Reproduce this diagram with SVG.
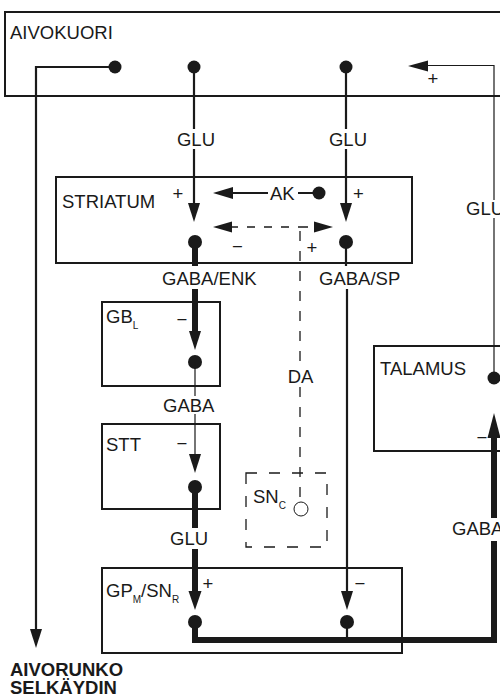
<svg xmlns="http://www.w3.org/2000/svg" width="500" height="697" viewBox="0 0 500 697">
<style>
text{font-family:"Liberation Sans",Arial,Helvetica,sans-serif;font-size:18.5px;fill:#1a1a1a}
.box{fill:none;stroke:#1a1a1a;stroke-width:2}
.ln{fill:none;stroke:#1a1a1a;stroke-width:2.2}
.thin{fill:none;stroke:#1a1a1a;stroke-width:1.2}
.thick{fill:none;stroke:#1a1a1a;stroke-width:6}
.dash{fill:none;stroke:#1a1a1a;stroke-width:1.3;stroke-dasharray:10 10}
.hdash{fill:none;stroke:#1a1a1a;stroke-width:1.3;stroke-dasharray:8 9}
.dot,.ah{fill:#1a1a1a}
.c{text-anchor:middle}
.sub{font-size:10px}
.b{font-weight:bold}
</style>
<rect x="0" y="0" width="500" height="697" fill="#ffffff"/>

<g id="aivokuori">
<rect class="box" x="5" y="12" width="510" height="84"/>
<text x="10" y="39">AIVOKUORI</text>
</g>
<g id="striatum">
<rect class="box" x="56" y="177" width="356" height="86"/>
<text x="62" y="208">STRIATUM</text>
</g>
<g id="gbl">
<rect class="box" x="102" y="302" width="118" height="84"/>
<text x="106" y="323">GB<tspan class="sub" dy="6">L</tspan></text>
</g>
<g id="stt">
<rect class="box" x="102" y="424" width="118" height="85"/>
<text x="106" y="451">STT</text>
</g>
<g id="snc">
<rect x="246" y="473" width="81" height="74" fill="none" stroke="#1a1a1a" stroke-width="1.3" stroke-dasharray="11 12"/>
<text x="253" y="503">SN<tspan class="sub" dy="6">C</tspan></text>
<circle cx="301" cy="509" r="7" fill="#ffffff" stroke="#1a1a1a" stroke-width="1"/>
</g>
<g id="gpm">
<rect class="box" x="102" y="568" width="300" height="85"/>
<text x="106" y="597">GP<tspan class="sub" dy="6">M</tspan><tspan dy="-6">/SN</tspan><tspan class="sub" dy="6">R</tspan></text>
</g>
<g id="talamus">
<rect class="box" x="374" y="346" width="140" height="105"/>
<text x="380" y="375">TALAMUS</text>
</g>
<g id="aivorunko">
<text class="b" x="10" y="676">AIVORUNKO</text>
<text class="b" x="10" y="694">SELKÄYDIN</text>
</g>

<g id="connectors">
<circle class="dot" cx="115" cy="67" r="6.5"/>
<path class="ln" d="M115,67 H36 V630"/>
<path class="ah" d="M30,629 L42,629 L36,648 Z"/>

<circle class="dot" cx="194" cy="67" r="6.5"/>
<path class="ln" d="M194,67 V129 M194,149 V205"/>
<text class="c" x="196" y="146">GLU</text>
<path class="ah" d="M188,203 L200,203 L194,222 Z"/>
<text class="c" x="178" y="199.5">+</text>

<circle class="dot" cx="346" cy="67" r="6.5"/>
<path class="ln" d="M346,67 V129 M346,149 V205"/>
<text class="c" x="348" y="146">GLU</text>
<path class="ah" d="M340,203 L352,203 L346,222 Z"/>
<text class="c" x="358.5" y="199.5">+</text>

<path class="ah" d="M213,193 L233,187 L233,199 Z"/>
<path class="ln" d="M231,193 H268 M298,193 H313"/>
<text x="270" y="199.5">AK</text>
<circle class="dot" cx="319" cy="193" r="6.5"/>

<path class="hdash" d="M230,227 H300 M300,227 H316"/>
<path class="ah" d="M213,227 L232,221.5 L232,232.5 Z"/>
<path class="ah" d="M333,227 L314,221.5 L314,232.5 Z"/>
<path class="dash" d="M300,231 V366 M300,387 V502"/>
<text class="c" x="300.5" y="383">DA</text>
<text class="c" x="237.5" y="252.5">−</text>
<text class="c" x="312" y="254">+</text>

<circle class="dot" cx="195" cy="242" r="7"/>
<path class="thick" d="M195,242 V266 M195,289 V332"/>
<text x="162" y="285">GABA/ENK</text>
<path class="ah" d="M189,331 L201,331 L195,350 Z"/>
<text class="c" x="182" y="325.5">−</text>

<circle class="dot" cx="195" cy="362" r="7"/>
<path class="thin" d="M195,362 V396 M195,414 V455"/>
<text x="163" y="412">GABA</text>
<path class="ah" d="M189,454 L201,454 L195,473 Z"/>
<text class="c" x="182" y="449.5">−</text>

<circle class="dot" cx="195" cy="487" r="7"/>
<path class="thick" d="M195,487 V528 M195,549 V592"/>
<text x="170" y="545">GLU</text>
<path class="ah" d="M188.5,591 L201.5,591 L195,610 Z"/>
<text class="c" x="208" y="589.5">+</text>

<circle class="dot" cx="346" cy="242" r="7"/>
<path class="ln" d="M346,242 V266 M347,289 V592"/>
<text x="319" y="285">GABA/SP</text>
<path class="ah" d="M341,591 L353,591 L347,610 Z"/>
<text class="c" x="360" y="589.5">−</text>

<circle class="dot" cx="195" cy="622" r="7"/>
<circle class="dot" cx="347" cy="622" r="7"/>
<path class="ln" d="M347,622 V640"/>
<path class="thick" d="M195,622 V640 H494 V541"/>
<text x="452" y="535">GABA</text>
<path class="thick" d="M494,518 V436"/>
<path class="ah" d="M487.5,438 L500.5,438 L494,413 Z"/>
<text class="c" x="482" y="443.5">−</text>

<circle class="dot" cx="494" cy="378" r="6.5"/>
<path class="thin" d="M494,378 V218 M494,200 V65.5 H426"/>
<text x="466" y="215">GLU</text>
<path class="ah" d="M408,66 L428,60.5 L428,71.5 Z"/>
<text class="c" x="433" y="84.5">+</text>
</g>
</svg>
